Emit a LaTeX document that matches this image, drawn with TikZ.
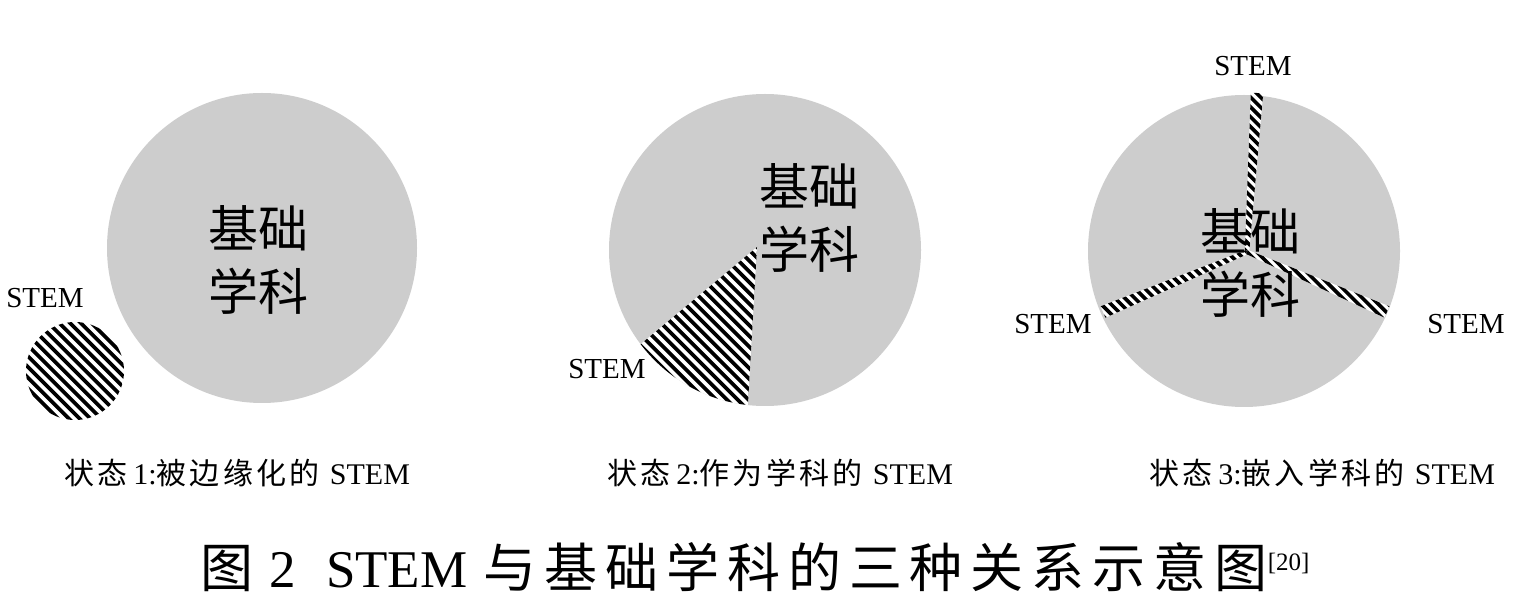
\documentclass[tikz,border=0pt]{standalone}
\usepackage{fontspec}
\setmainfont{Liberation Serif}
\newfontfamily\cjk{Noto Sans CJK SC}
\newfontfamily\cjkcap[LetterSpace=11]{Noto Sans CJK SC}
\newfontfamily\cjktitle[LetterSpace=15]{Noto Sans CJK SC}
\usetikzlibrary{calc}
\definecolor{discgray}{RGB}{205,205,205}
\tikzset{
  disc/.style={circle, fill=discgray, draw=none, inner sep=0pt},
  hatchline/.style={line width=3.8pt, black},
  spokeline/.style={line width=3.6pt, black},
  subjtext/.style={font=\cjk\fontsize{50}{63}\selectfont, align=center, inner sep=0pt},
  stemlabel/.style={font=\fontsize{29}{29}\selectfont, inner sep=0pt},
  captiontext/.style={font=\fontsize{30}{30}\selectfont, inner sep=0pt},
  titletext/.style={font=\fontsize{53}{53}\selectfont, inner sep=0pt},
}
% hatch lines through centre (#1) with period #2 and count #3 each side
\newcommand{\myhatch}[3]{%
  \foreach \k in {-#3,...,#3}{%
    \draw[hatchline] ($(#1)+(-45:\k*#2)+(45:-420)$) -- ++(45:840);
  }%
}
\begin{document}
\begin{tikzpicture}[x=1pt,y=-1pt]
\useasboundingbox (0,0) rectangle (1518,609);
\fill[white] (0,0) rectangle (1518,609);

% ---------- state 1 ----------
\node[disc, minimum size=310pt] (big1) at (262,248) {};
\coordinate (c1) at (75,371);
\begin{scope}
  \clip (c1) circle[radius=49];
  \fill[white] (c1) circle[radius=49];
  \myhatch{c1}{7.6}{9}
\end{scope}
\node[subjtext] (t1) at (258,260) {基础\\学科};
\node[stemlabel] (l1) at (45,298) {STEM};

% ---------- state 2 ----------
\node[disc, minimum size=312pt] (big2) at (765,250) {};
\coordinate (apex2) at (757,247);
\begin{scope}
  \clip (765,250) circle[radius=156];
  \clip (apex2) -- (527,439) -- (739,559) -- cycle;
  \fill[white] (apex2) -- (527,439) -- (739,559) -- cycle;
  \myhatch{apex2}{7.6}{24}
\end{scope}
\node[subjtext] (t2) at (809,218) {基础\\学科};
\node[stemlabel] (l2) at (607,369) {STEM};

% ---------- state 3 ----------
\node[disc, minimum size=312pt] (big3) at (1244,251) {};
\coordinate (c3) at (1247,252);
\coordinate (s3top) at (1257,93);
\coordinate (s3left) at (1103,312);
\coordinate (s3right) at (1387,312);
\foreach \e in {s3top,s3left,s3right}{
  \begin{scope}
    \clip ($(c3)!2.2pt!90:(\e)$) -- ($(\e)!6.2pt!-90:(c3)$) -- ($(\e)!6.2pt!90:(c3)$) -- ($(c3)!2.2pt!-90:(\e)$) -- cycle;
    \fill[white] (c3) circle[radius=170];
    \foreach \k in {-26,...,26}{%
      \draw[spokeline] ($(c3)+(-45:\k*7)+(45:-420)$) -- ++(45:840);
    }
  \end{scope}
}
\node[subjtext] (t3) at (1250,263) {基础\\学科};
\node[stemlabel] (l3top) at (1253,66) {STEM};
\node[stemlabel] (l3left) at (1053,324) {STEM};
\node[stemlabel] (l3right) at (1466,324) {STEM};

% ---------- captions ----------
\node[captiontext] (cap1) at (237,473) {{\cjkcap 状态}\hspace{6pt}1:{\cjkcap 被边缘化的}\hspace{10pt}STEM};
\node[captiontext] (cap2) at (780,473) {{\cjkcap 状态}\hspace{6pt}2:{\cjkcap 作为学科的}\hspace{10pt}STEM};
\node[captiontext] (cap3) at (1322,473) {{\cjkcap 状态}\hspace{6pt}3:{\cjkcap 嵌入学科的}\hspace{10pt}STEM};

% ---------- title ----------
\node[titletext] (title) at (755,567) {{\cjktitle 图}\hspace{16pt}2\hspace{30pt}STEM\hspace{16pt}{\cjktitle 与基础学科的三种关系示意图}\raisebox{17pt}{\fontsize{25}{25}\selectfont[20]}};
\end{tikzpicture}
\end{document}
